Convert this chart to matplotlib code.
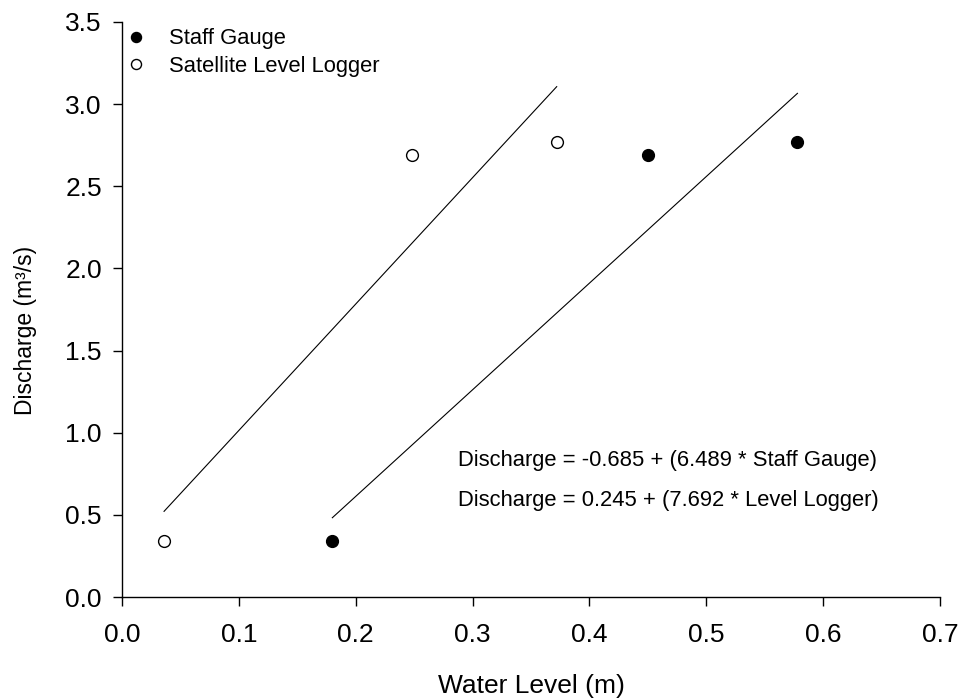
"""Rating curve: discharge vs water level for staff gauge and satellite level logger."""

import matplotlib

matplotlib.use("Agg")
import matplotlib.pyplot as plt
import numpy as np

plt.rcParams["font.family"] = ["Liberation Sans", "DejaVu Sans"]

# measured points
discharge = [0.34, 2.69, 2.77]
staff_level = [0.18, 0.45, 0.578]
logger_level = [0.036, 0.248, 0.372]

# regression fits shown on the plot
staff_fit = (-0.685, 6.489)
logger_fit = (0.245, 7.692)

x_ticks = [0.0, 0.1, 0.2, 0.3, 0.4, 0.5, 0.6, 0.7]
y_ticks = [0.0, 0.5, 1.0, 1.5, 2.0, 2.5, 3.0, 3.5]


def fit_line(levels, fit):
    x = np.array([min(levels), max(levels)])
    return x, fit[0] + fit[1] * x


fig = plt.figure(figsize=(9.59, 7.0), dpi=100)
ax = fig.add_axes([0.1272, 0.147, 0.853, 0.8216])

ax.plot(staff_level, discharge, "o", ms=8.5, mfc="black", mec="black", mew=1,
        ls="none", label="Staff Gauge")
ax.plot(logger_level, discharge, "o", ms=8.5, mfc="white", mec="black", mew=1,
        ls="none", label="Satellite Level Logger")

for levels, fit in [(staff_level, staff_fit), (logger_level, logger_fit)]:
    xs, ys = fit_line(levels, fit)
    ax.plot(xs, ys, color="black", lw=0.8)

ax.text(0.2875, 0.83, "Discharge = -0.685 + (6.489 * Staff Gauge)",
        fontsize=15.8, va="center", ha="left")
ax.text(0.2875, 0.59, "Discharge = 0.245 + (7.692 * Level Logger)",
        fontsize=15.8, va="center", ha="left")

ax.set_xlim(0, 0.7)
ax.set_ylim(0, 3.5)
ax.set_xticks(x_ticks)
ax.set_yticks(y_ticks)
ax.set_xticklabels([f"{t:.1f}" for t in x_ticks])
ax.set_yticklabels([f"{t:.1f}" for t in y_ticks])
ax.tick_params(direction="out", length=6.5, width=1, labelsize=19, color="black")
ax.tick_params(axis="y", pad=8)
ax.tick_params(axis="x", pad=12)
for side in ["top", "right"]:
    ax.spines[side].set_visible(False)
for side in ["left", "bottom"]:
    ax.spines[side].set_linewidth(1)

ax.set_xlabel("Water Level (m)", fontsize=19)
ax.xaxis.set_label_coords(0.5, -0.134)
ax.set_ylabel("Discharge (m³/s)", fontsize=16.5)
ax.yaxis.set_label_coords(-0.104, 0.463)

ax.legend(loc="upper left", bbox_to_anchor=(-0.012, 1.012), frameon=False,
          fontsize=15.8, handlelength=1.0, handletextpad=1.0,
          labelspacing=0.3, borderaxespad=0.2, markerscale=0.85)

fig.savefig("out.png", dpi=100)
plt.close(fig)
